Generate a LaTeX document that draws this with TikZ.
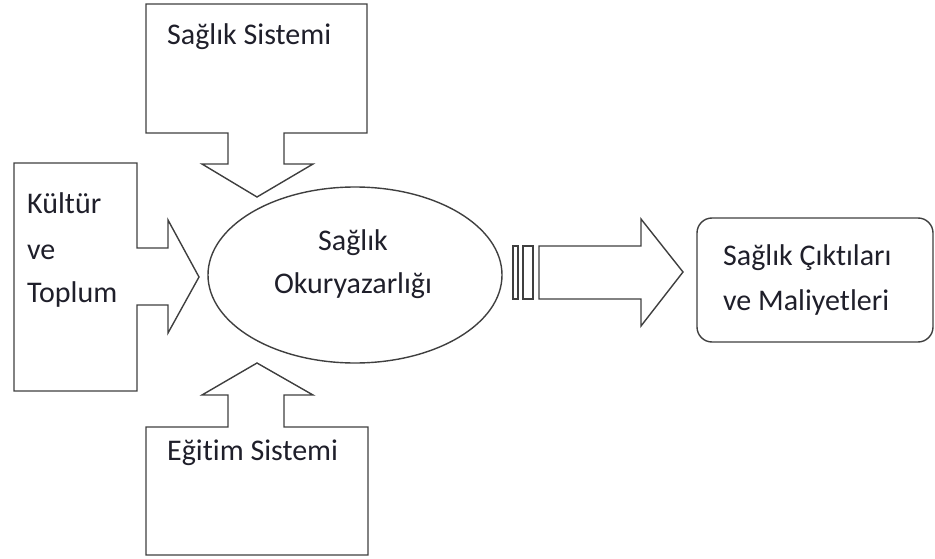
\documentclass[tikz,border=0pt]{standalone}
\usepackage{fontspec}
\setmainfont[Ligatures={NoCommon}]{Carlito}
\usetikzlibrary{shapes.geometric}
\definecolor{linegray}{HTML}{3F3F3F}
\definecolor{txt}{HTML}{1F1F2A}
\tikzset{
  shapeline/.style={draw=linegray, line width=1.4pt, line join=miter},
  lbl/.style={text=txt, font=\fontsize{30}{40}\selectfont, inner sep=0pt},
}
\begin{document}
\begin{tikzpicture}[x=1pt,y=-1pt]
\useasboundingbox (0,0) rectangle (935,559);
% top callout
\draw[shapeline] (146,4) -- (367,4) -- (367,133) -- (284,133) -- (284,164) -- (313,164) -- (257,197) -- (202,164) -- (228,164) -- (228,133) -- (146,133) -- cycle;
% bottom callout
\draw[shapeline] (146,555) -- (368,555) -- (368,427) -- (284,427) -- (284,395) -- (313,395) -- (257,363) -- (202,395) -- (228,395) -- (228,427) -- (146,427) -- cycle;
% left callout
\draw[shapeline] (14,163) -- (137,163) -- (137,248) -- (168,248) -- (168,220) -- (199,277) -- (168,333) -- (168,305) -- (137,305) -- (137,391) -- (14,391) -- cycle;
% ellipse
\node[ellipse, shapeline, minimum width=294pt, minimum height=176pt, inner sep=0pt] (oku) at (355,275) {};
% striped arrow
\draw[shapeline] (513,246) rectangle (518,299);
\draw[shapeline] (523,246) rectangle (533,299);
\draw[shapeline] (539,246) -- (641,246) -- (641,219) -- (683,272) -- (641,326) -- (641,299) -- (539,299) -- cycle;
% rounded box
\node[shapeline, rounded corners=15pt, minimum width=236pt, minimum height=124pt, inner sep=0pt] (cikti) at (815,280) {};
% texts
\node[lbl, anchor=base west] (t1) at (167,45) {Sağlık Sistemi};
\node[lbl, anchor=base west] (t2) at (167,460) {Eğitim Sistemi};
\node[lbl, anchor=base west] (k1) at (27,214) {Kültür};
\node[lbl, anchor=base west] (k2) at (27,259) {ve};
\node[lbl, anchor=base west] (k3) at (27,302) {Toplum};
\node[lbl, anchor=base] (o1) at (353,251) {Sağlık};
\node[lbl, anchor=base] (o2) at (353,293) {Okuryazarlığı};
\node[lbl, anchor=base west] (c1) at (723,265) {Sağlık Çıktıları};
\node[lbl, anchor=base west] (c2) at (723,310) {ve Maliyetleri};
\end{tikzpicture}
\end{document}
